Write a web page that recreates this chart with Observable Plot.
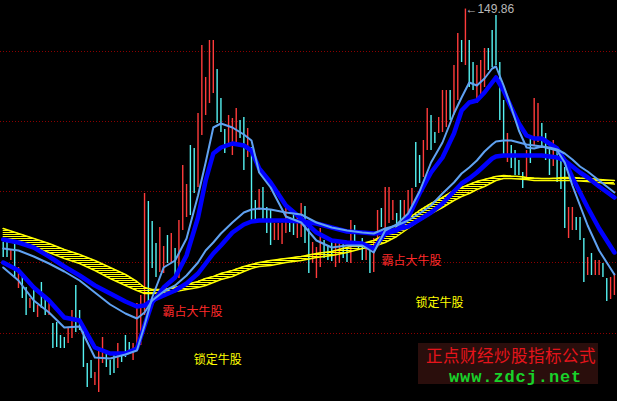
<!DOCTYPE html>
<html><head><meta charset="utf-8">
<script src="https://cdn.jsdelivr.net/npm/d3@7"></script>
<script src="https://cdn.jsdelivr.net/npm/@observablehq/plot@0.6"></script>
<style>
html,body{margin:0;padding:0;background:#000;}
#wrap{position:relative;width:617px;height:401px;overflow:hidden;background:#000;}
#wrap svg{position:absolute;left:0;top:0;}
.wm{position:absolute;left:418px;top:343px;width:180px;height:41px;background:#2a0e0c;}
.wm1{position:absolute;left:8px;top:3px;font-family:"Noto Sans CJK SC",sans-serif;font-size:16.5px;line-height:18px;color:#e5141b;white-space:nowrap;letter-spacing:0.5px;}
.wm2{position:absolute;left:31px;top:27.5px;font-family:"Liberation Mono",monospace;font-weight:bold;font-size:17px;line-height:14px;color:#18d22a;white-space:nowrap;letter-spacing:0.9px;}
</style></head>
<body><div id="wrap"><div class="wm"><div class="wm1">正点财经炒股指标公式</div><div class="wm2">www.zdcj.net</div></div></div>
<script>
// ---- bar data (price units) ----
const highs = [91.5,91.5,89.5,91.5,85.25,83.25,80.25,77.5,79.5,75.75,
81.5,77.75,77.5,71.25,71.5,68.25,67.75,70.25,74.5,80.75,
74.5,70,61.25,62,59,65.25,67.75,63.75,62,63.25,
66.25,63.75,68.25,66.5,66.25,76.25,78.25,103.75,101.75,96.75,
91.25,95.25,90.5,93.25,93.75,90,97,110.75,106,115.75,
115,123.75,140.75,132.75,142,142,134.75,127.5,119.75,123.25,
122.5,125,122,122.75,120,115.25,102,104.75,105.25,100.25,
99.5,96.25,96.25,96.25,100,97.75,99,97.75,101.25,100.5,
96.25,91.5,90.25,95,92,90.75,92,92,91.5,92,
90,97,95.75,90.75,92.5,90.25,89.5,92.5,99.5,100,
105.25,105.25,102,98.75,102,102,104.5,105,116.5,113.25,
117,125,123.25,119,122.75,129.5,129.5,129.5,135.75,143.75,
142,149.86,142,136.5,135.75,137,140,140,144.5,148.25,
136.5,127,118.75,115.75,114.5,112,109,114.5,117.5,127.5,
126.25,121.25,118.75,115,117,115,112.25,110.25,100.25,100.25,
97.75,97.75,92.5,87.75,88.75,87,87,86.25,82.5,82.75,83.75];
const lows = [87.75,87.75,87,82.5,80,77.5,73.25,75,74,72.75,
75,73.25,73.25,65,65.25,65,65,66.25,67.5,69,
69.5,60.25,55.25,57.5,55.75,54,61.25,60.25,58.25,58.75,
60,61.5,62.75,64,62,64.5,65.75,73.25,75.75,85,
82.75,84,83.75,86.25,86.25,82.5,82.5,94.5,97.75,98.25,
103.75,105.25,118.25,123.25,126.25,128.75,121.25,119,113.75,115.25,
113.25,116.25,117.5,109.5,112.75,97,97,99.5,97,93.75,
90.75,92,92,91,93.75,94,93.25,92.5,92.75,91.25,
83.75,86.25,82.5,85.25,87.5,87,86.75,85.25,86.25,87.5,
86.5,86.25,90.75,89.5,87,87,83.75,84,90.25,95.25,
92.75,96.25,97,94.5,95.25,97.75,98.75,99.5,105.25,106.25,
107.75,114.5,114.5,116.25,118.75,119,120.25,122,123.25,127,
136.5,135.75,130.25,129.5,126.25,127.75,130.25,134.5,135.25,135.75,
122,113.25,111.5,110,108.25,108.25,105,107.75,111.25,115.75,
116.5,115,112,108.25,110.5,106.5,104.75,95,92.5,94.5,
94.5,92,81.5,83.25,83.25,83.25,83.25,82.75,76.75,77.25,78.25];
const ups = [0,0,1,0,1,0,0,1,0,1,
0,0,1,0,0,0,0,1,1,0,
0,0,0,0,1,1,1,0,0,0,
1,0,0,0,1,1,1,1,0,0,
0,1,1,0,1,0,1,1,1,0,
0,1,1,1,1,1,0,0,0,1,
1,1,0,0,1,0,0,1,0,0,
0,1,1,1,1,0,0,1,1,0,
0,1,1,1,0,0,0,1,1,0,
0,1,0,0,0,1,0,1,1,0,
1,1,1,0,0,1,1,1,0,0,
1,1,0,0,1,1,1,0,1,1,
0,1,0,0,1,1,1,0,0,0,
0,0,1,0,0,0,0,1,0,1,
1,0,0,0,1,0,0,0,1,1,
0,0,0,1,0,1,1,0,0,1,1];

// ---- indicator lines, read at these bar indices ----
const sampleIdx = [0,4,8,12,16,20,24,28,32,35,37,39,42,45,48,51,53,55,57,60,
63,65,67,70,74,78,82,86,90,94,97,100,103,106,109,112,115,118,120,122,
124,126,128,129,131,133,135,137,139,141,143,145,147,149,151,153,156,160];
const fastLight = [85.25,82,77,74,70.25,70.5,62.75,62.5,63.5,64.5,70.75,77.75,85.25,87,92.5,103.25,111.5,120.25,121.25,120.25,
118.5,117,109,105.25,98,96.5,92,90.25,90.75,90.75,89,94.5,96,98.75,104.25,111.5,116.5,123.75,127.75,131.5,
130.75,132.5,135,135.5,130.75,125.25,119.5,115.25,115,115.5,115,114.5,111.5,105.75,100.75,95.75,89.5,83.5];
const fastBlue = [86.5,84.5,80.25,77,72.75,72,65.25,63.75,63.75,65,70.75,76.5,80.25,82.75,88.25,97.75,107,113.75,115.25,116.25,
115.75,114.5,110,106.5,100.75,97.5,94,92,91.5,91.25,90,93.75,94.5,97.75,103.75,109,112.75,118.75,124.5,126.5,
127,129,131.5,132.75,129.5,125.25,121.25,118.25,117.5,117.5,116.25,115,112,107.75,104,100.25,95,89];
const slowLight = [90,89.5,88,86.25,84.25,82,79,76,73.75,72.5,74,77,79.25,80.75,83.25,86.5,89.5,91.5,93.75,96.5,
99,99.75,100,99.75,99,98.5,96.5,95.25,94.5,94,93.75,95,95.75,97,98.75,100.75,103.75,106.5,108.75,110.25,
112,114.25,116,116.75,117,117,116.5,116,115.75,115.5,115.25,114.75,113.75,112.25,110.5,109.25,107,104];
const slowBlue = [92.25,91.5,90.25,88,85.5,83.25,80.75,78.75,76.75,75.5,75.75,77,78.25,79.5,81.25,83.75,86.25,88.75,90.75,94,
96,96.75,97,97,97,96.75,96.25,95.25,94.25,94,93.75,94,94.75,95.5,97.25,99,101.25,104.25,106.25,107.5,
109,110.75,112.5,113,113.25,113.25,113.25,113.25,113.25,113.25,113,112.75,112,110.5,109,107.75,105.5,102.75];
const bandTop = [95,93.75,92.5,91.25,89.75,88.5,87,85.25,83.5,81.75,80.25,79.75,79.75,80.25,81,81.75,82.5,83,83.75,84.5,
85.5,86,86.5,87,87.5,88,88.75,89.25,90.25,91.25,92,93.5,95.25,97.5,99.5,101.25,102.75,104.5,105.25,106,
106.75,107.25,107.75,108,108.25,108.1,108,107.75,107.6,107.5,107.5,107.6,107.75,107.75,107.6,107.5,107.25,107];
const bandBot = [92,91.25,90.25,89,87.5,86.25,84.5,82.5,80.75,79.5,78.75,78.75,79,79.25,79.75,80.25,80.75,81.5,82.25,83,
84.25,85,85.5,85.75,86.5,87,87.75,88.25,89,90,90.5,91.5,93,95,97,98.75,100.25,102,103,103.75,
104.75,105.5,106.5,107,107.5,107.5,107.4,107.25,107,107,107,107,107,107,106.9,106.75,106.5,106.1];

// ---- grid levels, labels ----
const gridPrices = [139.25,121.75,104.25,86.5,68.75];
const redLabelText = ["霸占大牛股","霸占大牛股"];
const redLabelX = [41.7,99];
const redLabelY = [74.1,86.75];
const yellowLabelText = ["锁定牛股","锁定牛股"];
const yellowLabelX = [49.9,107.9];
const yellowLabelY = [62,76.4];
const peakIndex = 121;
const peakPrice = 149.86;

const bars = highs.map((h,i)=>({i, high:h, low:lows[i], up:ups[i]===1}));
const lines = sampleIdx.map((i,k)=>({i, a:fastLight[k], b:fastBlue[k], c:slowLight[k], d:slowBlue[k], yt:bandTop[k], yb:bandBot[k]}));
const redLabels = redLabelText.map((t,k)=>({t, x:redLabelX[k], y:redLabelY[k]}));
const yellowLabels = yellowLabelText.map((t,k)=>({t, x:yellowLabelX[k], y:yellowLabelY[k]}));

const chart = Plot.plot({
  width:617, height:401, margin:0,
  style:{background:"#000", overflow:"hidden"},
  x:{domain:[0,160], range:[2.7,613.9], axis:null},
  y:{domain:[52,152], range:[400,0], axis:null},
  marks:[
    Plot.ruleY(gridPrices,{stroke:"#8c0000", strokeDasharray:"1,2", strokeWidth:1}),
    Plot.ruleX(bars,{filter:d=>d.up, x:"i", y1:"low", y2:"high", stroke:"#ff3b3b", strokeWidth:1.4}),
    Plot.ruleX(bars,{filter:d=>!d.up, x:"i", y1:"low", y2:"high", stroke:"#55f2f2", strokeWidth:1.4}),
    Plot.areaY(lines,{x:"i", y1:"yb", y2:"yt", fill:"url(#hatch)"}),
    Plot.line(lines,{x:"i", y:"yt", stroke:"#ffff00", strokeWidth:1.5}),
    Plot.line(lines,{x:"i", y:"yb", stroke:"#ffff00", strokeWidth:1.5}),
    Plot.line(lines,{x:"i", y:"d", stroke:"#0000ff", strokeWidth:4.5}),
    Plot.line(lines,{x:"i", y:"b", stroke:"#0000ff", strokeWidth:4.5}),
    Plot.line(lines,{x:"i", y:"c", stroke:"#60a2f2", strokeWidth:2}),
    Plot.line(lines,{x:"i", y:"a", stroke:"#60a2f2", strokeWidth:2}),
    Plot.text(redLabels,{x:"x", y:"y", text:"t", fill:"#ff2a2a", fontSize:12, fontFamily:"Noto Sans CJK SC", textAnchor:"start"}),
    Plot.text(yellowLabels,{x:"x", y:"y", text:"t", fill:"#ffff00", fontSize:12, fontFamily:"Noto Sans CJK SC", textAnchor:"start"}),
    Plot.text([{x:peakIndex, y:peakPrice}],{x:"x", y:"y", text:d=>"\u2190" + d.y.toFixed(2), fill:"#b8b8b8", fontSize:12, fontFamily:"Liberation Sans", textAnchor:"start"})
  ]
});
const defs = d3.select(chart).insert("defs", ":first-child");
const pat = defs.append("pattern").attr("id","hatch").attr("width",4).attr("height",2).attr("patternUnits","userSpaceOnUse");
pat.append("rect").attr("width",4).attr("height",1).attr("fill","#ffff00");
const wrap = document.getElementById("wrap");
wrap.insertBefore(chart, wrap.firstChild);
</script>
</body></html>
